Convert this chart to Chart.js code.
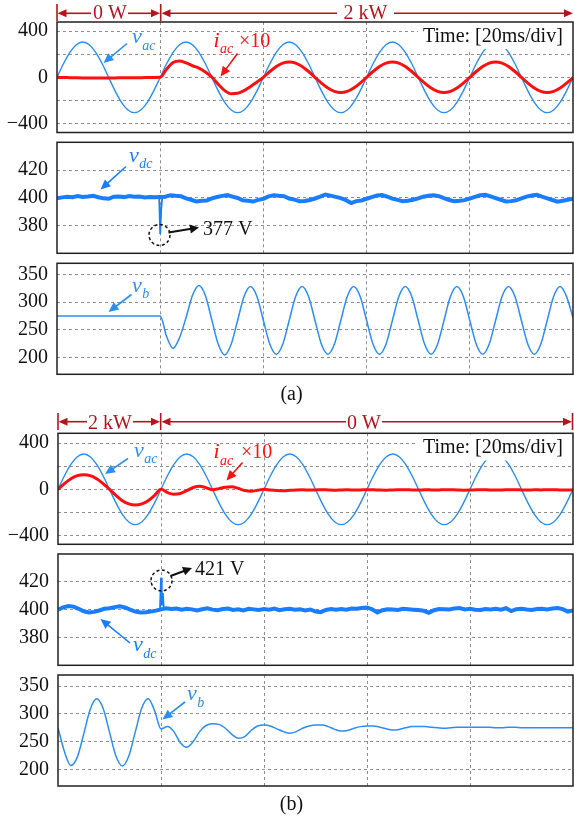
<!DOCTYPE html>
<html>
<head>
<meta charset="utf-8">
<script src="https://cdn.jsdelivr.net/npm/chart.js@4.4.1/dist/chart.umd.min.js"></script>
<style>
html, body { margin: 0; padding: 0; background: #fff; }
#fig { position: relative; width: 574px; height: 821px; overflow: hidden; }
.layer { position: absolute; left: 0; top: 0; width: 574px; height: 821px; }
</style>
</head>
<body>
<div id="fig"></div>
<script>
// ---- data (time in ms, 1.25 ms per sample) ----
const T_STEP = 1.25;

const vac = [
  0, 117, 216, 282, 305, 282, 216, 117, 0, -117, -216, -282, -305, -282, -216, -117,
  0, 117, 216, 282, 305, 282, 216, 117, 0, -117, -216, -282, -305, -282, -216, -117,
  0, 117, 216, 282, 305, 282, 216, 117, 0, -117, -216, -282, -305, -282, -216, -117,
  0, 117, 216, 282, 305, 282, 216, 117, 0, -117, -216, -282, -305, -282, -216, -117,
  0, 117, 216, 282, 305, 282, 216, 117, 0, -117, -216, -282, -305, -282, -216, -117,
  0
];

// i_ac x10, (a) 0 W -> 2 kW
const iacA = [
  0, -2, -3, -4, -5, -6, -6, -6,
  -5, -5, -4, -4, -3, -3, -2, -1,
  0, 72, 128, 140, 124, 100, 80, 46,
  2, -60, -115, -142, -138, -115, -80, -40,
  0, 50, 93, 122, 132, 122, 93, 50,
  0, -50, -93, -122, -132, -122, -93, -50,
  0, 50, 93, 122, 132, 122, 93, 50,
  0, -50, -93, -122, -132, -122, -93, -50,
  0, 50, 93, 122, 132, 122, 93, 50,
  0, -50, -93, -122, -132, -122, -93, -50,
  -4
];

// i_ac x10, (b) 2 kW -> 0 W
const iacB = [
  0, 50, 92, 118, 126, 118, 92, 50,
  0, -52, -98, -126, -136, -126, -98, -52,
  0, -28, -42, -36, -12, 16, 26, 14,
  -4, 6, 18, 22, 8, -10, -16, -8,
  0, -6, -10, -12, -9, -5, -4, -6,
  -5, -3, -6, -8, -5, -4, -6, -5,
  -3, -4, -6, -7, -5, -4, -3, -5,
  -6, -4, -5, -6, -3, -4, -5, -7,
  -6, -4, -3, -5, -6, -5, -4, -3,
  -5, -6, -4, -5, -3, -4, -5, -6,
  -4
];

const vbA = [
  275, 275, 275, 275, 275, 275, 275, 275,
  275, 275, 275, 275, 275, 275, 275, 275,
  275, 238, 217, 236, 272, 312, 330, 312,
  268, 224, 205, 224, 267, 310, 328, 310,
  267, 224, 206, 224, 267, 310, 328, 310,
  267, 224, 206, 224, 267, 310, 328, 310,
  267, 224, 206, 224, 267, 310, 328, 310,
  267, 224, 206, 224, 267, 310, 328, 310,
  267, 224, 206, 224, 267, 310, 328, 310,
  267, 224, 206, 224, 267, 310, 328, 310,
  272
];

const vbB = [
  275, 232, 207, 222, 264, 308, 327, 310,
  267, 224, 206, 224, 267, 310, 327, 306,
  273, 277, 268, 248, 240, 250, 268, 279,
  282, 281, 274, 263, 256, 259, 270, 278,
  280, 278, 273, 268, 265, 268, 274, 278,
  280, 280, 277, 272, 269, 270, 274, 277,
  278, 278, 276, 273, 271, 272, 275, 277,
  277, 277, 276, 275, 274, 275, 276, 276,
  276, 276, 276, 276, 275, 275, 276, 276,
  275, 275, 275, 275, 275, 275, 275, 275,
  275
];

// v_dc, one sample per ms
const vdcA = [
  399.6, 400.3, 400.8, 400.4, 401.2, 400.6, 401.0, 401.5, 400.4, 399.6,
  399.3, 400.8, 401.0, 400.5, 401.2, 400.7, 400.9, 400.2, 400.6, 400.4,
  400.6, 400.8, 401.9, 401.5, 401.2, 399.6, 398.6, 397.4, 397.8, 398.0,
  399.6, 400.6, 401.4, 401.9, 400.8, 399.9, 398.2, 397.8, 397.3, 398.5,
  399.2, 401.0, 401.8, 401.4, 401.1, 399.5, 398.7, 397.5, 397.7, 398.4,
  399.5, 400.9, 402.4, 401.6, 400.7, 399.8, 398.3, 396.2, 397.6, 398.1,
  399.3, 400.5, 401.7, 402.0, 400.9, 399.4, 398.5, 397.6, 397.9, 398.6,
  399.6, 400.8, 401.5, 401.9, 401.2, 399.7, 398.4, 397.5, 397.8, 398.3,
  399.4, 400.6, 401.8, 402.2, 401.0, 399.8, 398.6, 397.4, 397.6, 398.2,
  399.5, 400.9, 401.7, 402.1, 400.8, 399.6, 398.4, 397.2, 397.9, 398.6,
  399.3
];
// the short dip when the load steps on
const vdcStepTimeA = [19.8, 20, 20.2, 20.4];
const vdcStepA = [400.4, 374, 392, 400.4];

const vdcB = [
  400.0, 401.6, 402.6, 402.2, 400.6, 398.8, 398.0, 398.4, 399.4, 400.6,
  401.0, 401.8, 402.4, 401.6, 400.0, 398.6, 398.0, 398.2, 398.6, 399.3,
  400.2, 401.0, 400.4, 400.8, 399.9, 400.6, 400.2, 399.4, 400.3, 400.9,
  400.0, 399.6, 400.5, 400.8, 399.8, 400.3, 399.5, 400.6, 400.2, 399.7,
  400.4, 400.0, 400.8, 399.6, 400.3, 400.7, 399.9, 400.2, 399.4, 400.1,
  398.6, 398.2, 399.8, 400.4, 399.9, 400.5, 400.0, 400.8, 400.6, 401.2,
  401.6, 400.2, 398.0, 399.6, 400.3, 400.1, 399.8, 400.6, 400.3, 400.0,
  399.7, 399.2, 397.8, 399.6, 400.5, 400.3, 400.1, 400.9, 401.2, 400.2,
  400.6, 400.0, 399.7, 400.5, 400.2, 400.6, 399.9, 401.0, 399.0, 400.3,
  400.6, 400.1, 399.8, 400.4, 400.7, 400.2, 400.8, 401.1, 400.4, 398.6,
  399.4
];
// the short overshoot when the load steps off
const vdcStepTimeB = [19.8, 20, 20.15, 20.35, 20.55];
const vdcStepB = [400, 423, 403, 412, 400.6];

// axis ticks
const divTicks = [20, 40, 60, 80];
const acTicks = [-400, -200, 0, 200, 400];
const acTickLabels = ['\u2212400', '', '0', '', '400'];
const dcTicks = [380, 400, 420];
const dcTickLabels = ['380', '400', '420'];
const bTicks = [200, 250, 300, 350];
const bTickLabels = ['200', '250', '300', '350'];

// ---- styling ----
const FIG_W = 574, FIG_H = 821;
const SERIF = '"Liberation Serif", "Times New Roman", serif';
const BLUE = '#2b8ef5';
const BLUE_DC = '#1a7dff';
const RED = '#ff1010';
const RED_D = '#b5141c';
const GRID = '#8e8e8e';
Chart.defaults.font.family = SERIF;

const tGrid = vac.map((_, i) => i * T_STEP);
const tMs = vdcA.map((_, i) => i);

function xy(times, values) {
    return values.map((v, i) => ({ x: times[i], y: v }));
}

function line(data, color, width, smooth) {
    return {
        data: data,
        borderColor: color,
        borderWidth: width,
        pointRadius: 0,
        fill: false,
        cubicInterpolationMode: smooth ? 'monotone' : 'default',
        tension: 0
    };
}

// ---- annotation drawing ----
function arrow(ctx, a, b, color, lw, hl, hw) {
    const ang = Math.atan2(b[1] - a[1], b[0] - a[0]);
    const c = Math.cos(ang), s = Math.sin(ang);
    ctx.strokeStyle = color;
    ctx.fillStyle = color;
    ctx.lineWidth = lw;
    ctx.setLineDash([]);
    ctx.beginPath();
    ctx.moveTo(a[0], a[1]);
    ctx.lineTo(b[0] - hl * 0.7 * c, b[1] - hl * 0.7 * s);
    ctx.stroke();
    ctx.beginPath();
    ctx.moveTo(b[0], b[1]);
    ctx.lineTo(b[0] - hl * c + hw * s, b[1] - hl * s - hw * c);
    ctx.lineTo(b[0] - hl * c - hw * s, b[1] - hl * s + hw * c);
    ctx.closePath();
    ctx.fill();
}

function drawNote(ctx, n) {
    ctx.textBaseline = 'alphabetic';
    if (n.k === 'text') {
        ctx.font = (n.f || 20) + 'px ' + SERIF;
        ctx.fillStyle = n.c || '#111';
        ctx.textAlign = n.al || 'left';
        ctx.fillText(n.s, n.x, n.y);
    } else if (n.k === 'sym') {
        ctx.fillStyle = n.c;
        ctx.textAlign = 'left';
        ctx.font = 'italic 22px ' + SERIF;
        ctx.fillText(n.m, n.x, n.y);
        const w = ctx.measureText(n.m).width;
        ctx.font = 'italic 14px ' + SERIF;
        ctx.fillText(n.sub, n.x + w + 0.5, n.y + 6.5);
    } else if (n.k === 'arrow') {
        arrow(ctx, n.a, n.b, n.c, n.lw || 1.6, n.hl || 10, n.hw || 4.5);
    } else if (n.k === 'bar') {
        ctx.strokeStyle = n.c;
        ctx.lineWidth = 1.6;
        ctx.setLineDash([]);
        ctx.beginPath();
        ctx.moveTo(n.x, n.y1);
        ctx.lineTo(n.x, n.y2);
        ctx.stroke();
    } else if (n.k === 'circle') {
        ctx.strokeStyle = '#111';
        ctx.lineWidth = 1.5;
        ctx.setLineDash([3, 2.5]);
        ctx.beginPath();
        ctx.arc(n.x, n.y, n.r, 0, Math.PI * 2);
        ctx.stroke();
        ctx.setLineDash([]);
    }
}

const scopePlugin = {
    id: 'scope',
    afterDraw(chart, args, opts) {
        const ctx = chart.ctx;
        const a = chart.chartArea;
        const notes = opts.notes || [];
        ctx.save();
        // white box behind the time base text hides trace and grid there
        notes.filter(n => n.k === 'box').forEach(n => {
            ctx.fillStyle = '#fff';
            ctx.fillRect(n.x, n.y, n.w, n.h);
        });
        ctx.strokeStyle = '#222';
        ctx.lineWidth = 1.5;
        ctx.setLineDash([]);
        ctx.strokeRect(a.left, a.top, a.right - a.left, a.bottom - a.top);
        notes.filter(n => n.k !== 'box').forEach(n => drawNote(ctx, n));
        ctx.restore();
    }
};

// ---- panels ----
const panels = [
    {   // (a) top: v_ac and i_ac
        box: [57, 22, 573, 132.5], y: [-477, 478], ticks: acTicks, labels: acTickLabels,
        datasets: [line(xy(tGrid, iacA), RED, 3, true), line(xy(tGrid, vac), BLUE, 1.4, true)],
        notes: [
            { k: 'box', x: 418, y: 23, w: 153, h: 26 },
            { k: 'text', x: 423, y: 41.5, s: 'Time: [20ms/div]' },
            { k: 'bar', x: 57, y1: 4, y2: 21, c: RED_D },
            { k: 'bar', x: 160.7, y1: 4, y2: 21, c: RED_D },
            { k: 'arrow', a: [91, 13.3], b: [57.5, 13.3], c: RED_D, hl: 9, hw: 4 },
            { k: 'arrow', a: [128, 13.3], b: [160, 13.3], c: RED_D, hl: 9, hw: 4 },
            { k: 'text', x: 110, y: 18.5, s: '0 W', c: RED_D, al: 'center' },
            { k: 'arrow', a: [337, 13.3], b: [161.5, 13.3], c: RED_D, hl: 9, hw: 4 },
            { k: 'arrow', a: [394, 13.3], b: [573, 13.3], c: RED_D, hl: 9, hw: 4 },
            { k: 'text', x: 365.5, y: 18.5, s: '2 kW', c: RED_D, al: 'center' },
            { k: 'sym', x: 132, y: 43, m: 'v', sub: 'ac', c: BLUE },
            { k: 'arrow', a: [127, 43.5], b: [103.5, 63], c: BLUE },
            { k: 'sym', x: 213.5, y: 46.5, m: 'i', sub: 'ac', c: RED },
            { k: 'text', x: 239, y: 47, s: '\u00d710', c: RED },
            { k: 'arrow', a: [237.5, 53.5], b: [220.5, 76.5], c: RED }
        ]
    },
    {   // (a) middle: v_dc
        box: [57, 142.3, 573, 253.3], y: [360, 440], ticks: dcTicks, labels: dcTickLabels,
        datasets: [line(xy(vdcStepTimeA, vdcStepA), BLUE_DC, 1.8, false),
                   line(xy(tMs, vdcA), BLUE_DC, 4, false)],
        notes: [
            { k: 'sym', x: 129, y: 161.5, m: 'v', sub: 'dc', c: BLUE_DC },
            { k: 'arrow', a: [126, 166.5], b: [100.5, 189.5], c: BLUE_DC },
            { k: 'circle', x: 159.5, y: 235, r: 10.5 },
            { k: 'arrow', a: [168.5, 232.5], b: [199, 227.5], c: '#111', lw: 2, hl: 9, hw: 4.5 },
            { k: 'text', x: 203, y: 235, s: '377 V' }
        ]
    },
    {   // (a) bottom: v_b
        box: [57, 263.3, 573, 374.3], y: [170, 370], ticks: bTicks, labels: bTickLabels,
        datasets: [line(xy(tGrid, vbA), BLUE, 1.5, true)],
        notes: [
            { k: 'sym', x: 132, y: 291.5, m: 'v', sub: 'b', c: BLUE },
            { k: 'arrow', a: [131.5, 294.5], b: [108.5, 312], c: BLUE },
            { k: 'text', x: 291.5, y: 400, s: '(a)', al: 'center', f: 20 }
        ]
    },
    {   // (b) top: v_ac and i_ac
        box: [58, 433.3, 573, 544.3], y: [-475, 484], ticks: acTicks, labels: acTickLabels,
        datasets: [line(xy(tGrid, iacB), RED, 3, true), line(xy(tGrid, vac), BLUE, 1.4, true)],
        notes: [
            { k: 'box', x: 418, y: 434.5, w: 153, h: 26 },
            { k: 'text', x: 423, y: 453, s: 'Time: [20ms/div]' },
            { k: 'bar', x: 58, y1: 413, y2: 430, c: RED_D },
            { k: 'bar', x: 160.7, y1: 413, y2: 430, c: RED_D },
            { k: 'bar', x: 572.5, y1: 413, y2: 430, c: RED_D },
            { k: 'arrow', a: [87, 421.7], b: [58.5, 421.7], c: RED_D, hl: 9, hw: 4 },
            { k: 'arrow', a: [133, 421.7], b: [160, 421.7], c: RED_D, hl: 9, hw: 4 },
            { k: 'text', x: 110, y: 428.5, s: '2 kW', c: RED_D, al: 'center' },
            { k: 'arrow', a: [346, 421.7], b: [161.5, 421.7], c: RED_D, hl: 9, hw: 4 },
            { k: 'arrow', a: [382, 421.7], b: [572, 421.7], c: RED_D, hl: 9, hw: 4 },
            { k: 'text', x: 364, y: 428.5, s: '0 W', c: RED_D, al: 'center' },
            { k: 'sym', x: 134, y: 456.5, m: 'v', sub: 'ac', c: BLUE },
            { k: 'arrow', a: [128, 458.5], b: [105, 474], c: BLUE },
            { k: 'sym', x: 213.5, y: 458, m: 'i', sub: 'ac', c: RED },
            { k: 'text', x: 241, y: 458, s: '\u00d710', c: RED },
            { k: 'arrow', a: [242.5, 462.5], b: [226.5, 480.5], c: RED }
        ]
    },
    {   // (b) middle: v_dc
        box: [58, 554, 573, 665.3], y: [360, 440], ticks: dcTicks, labels: dcTickLabels,
        datasets: [line(xy(vdcStepTimeB, vdcStepB), BLUE_DC, 1.8, false),
                   line(xy(tMs, vdcB), BLUE_DC, 4, false)],
        notes: [
            { k: 'circle', x: 161.5, y: 580.5, r: 10.5 },
            { k: 'arrow', a: [170.5, 576], b: [192, 568], c: '#111', lw: 2, hl: 9, hw: 4.5 },
            { k: 'text', x: 195, y: 574.5, s: '421 V' },
            { k: 'sym', x: 133, y: 651, m: 'v', sub: 'dc', c: BLUE_DC },
            { k: 'arrow', a: [130, 643], b: [100.5, 619], c: BLUE_DC }
        ]
    },
    {   // (b) bottom: v_b
        box: [58, 675, 573, 786], y: [170, 370], ticks: bTicks, labels: bTickLabels,
        datasets: [line(xy(tGrid, vbB), BLUE, 1.5, true)],
        notes: [
            { k: 'sym', x: 187, y: 700, m: 'v', sub: 'b', c: BLUE },
            { k: 'arrow', a: [185, 702], b: [162.5, 719.5], c: BLUE },
            { k: 'text', x: 291.5, y: 810, s: '(b)', al: 'center', f: 20 }
        ]
    }
];

function createPanel(p) {
    const wrapper_el = document.createElement('div');
    wrapper_el.className = 'layer';
    const canvas_el = document.createElement('canvas');
    wrapper_el.appendChild(canvas_el);
    document.getElementById('fig').appendChild(wrapper_el);

    const [l, t, r, b] = p.box;
    new Chart(canvas_el, {
        type: 'line',
        data: { datasets: p.datasets },
        options: {
            responsive: true,
            maintainAspectRatio: false,
            animation: false,
            devicePixelRatio: 1,
            events: [],
            layout: { padding: { left: 0, top: t, right: FIG_W - r, bottom: FIG_H - b } },
            plugins: {
                legend: { display: false },
                tooltip: { enabled: false },
                scope: { notes: p.notes }
            },
            scales: {
                x: {
                    type: 'linear', min: 0, max: 100,
                    afterBuildTicks: s => { s.ticks = divTicks.map(v => ({ value: v })); },
                    afterFit: s => { s.height = 0; },
                    ticks: { display: false },
                    grid: { color: GRID, lineWidth: 1, drawTicks: false },
                    border: { display: false, dash: [3, 3] }
                },
                y: {
                    type: 'linear', min: p.y[0], max: p.y[1],
                    afterBuildTicks: s => { s.ticks = p.ticks.map(v => ({ value: v })); },
                    afterFit: s => { s.width = l; },
                    ticks: {
                        padding: 9, color: '#111',
                        font: { family: SERIF, size: 20 },
                        callback: v => {
                            const i = p.ticks.indexOf(v);
                            return i < 0 ? '' : p.labels[i];
                        }
                    },
                    grid: { color: GRID, lineWidth: 1, drawTicks: false },
                    border: { display: false, dash: [3, 3] }
                }
            }
        },
        plugins: [scopePlugin]
    });
}

panels.forEach(createPanel);
</script>
</body>
</html>
